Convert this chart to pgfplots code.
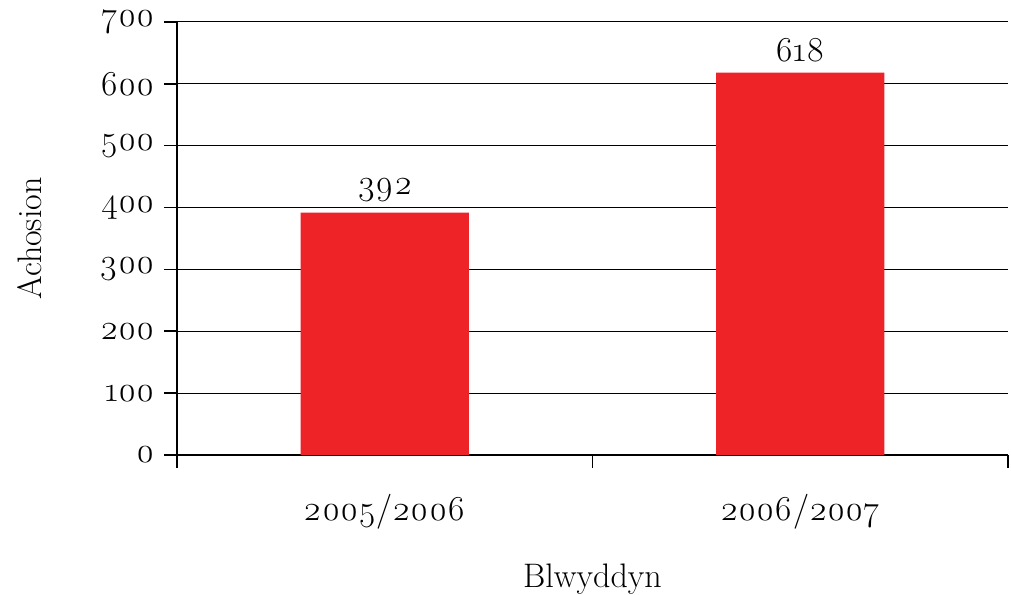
\documentclass[border=0pt]{standalone}
\usepackage{fontspec}
\setmainfont{Latin Modern Roman}[Numbers=OldStyle]
\usepackage{pgfplots}
\pgfplotsset{compat=1.18}
\definecolor{barred}{RGB}{237,35,39}
\begin{document}
\begin{tikzpicture}
\begin{axis}[
  scale only axis,
  width=415.5pt, height=216.5pt,
  xmin=-0.5, xmax=1.5,
  ymin=0, ymax=700,
  ytick={0,100,...,700},
  axis x line=bottom, axis y line=left,
  axis line style={-, line width=1pt},
  xtick={-0.5,0.5,1.5},
  xticklabels={},
  extra x ticks={0,1},
  extra x tick labels={2005/2006,2006/2007},
  extra x tick style={major tick length=0pt, tick style={draw=none}, grid=none},
  tick style={draw=black,line width=0.8pt},
  tick align=outside,
  major tick length=6.5pt,
  ymajorgrids,
  grid style={black, line width=0.5pt},
  /pgf/number format/assume math mode=true,
  ticklabel style={font=\fontsize{17.5}{20}\selectfont},
  yticklabel style={xshift=-1pt},
  xticklabel style={yshift=-16pt},
  xlabel={Blwyddyn},
  ylabel={Achosion},
  label style={font=\fontsize{17}{20}\selectfont},
  xlabel style={yshift=-4pt},
  ylabel style={yshift=22pt},
  enlarge x limits=false,
]
\addplot[ybar, bar width=0.405, fill=barred, draw=none,
  nodes near coords,
  every node near coord/.append style={font=\fontsize{17.5}{20}\selectfont, black, yshift=2pt},
] coordinates {(0,392) (1,618)};
\end{axis}
\pgfresetboundingbox
\path[use as bounding box] ([shift={(-88.5pt,-70pt)}]current axis.south west) rectangle ([shift={(1.5pt,11pt)}]current axis.north east);
\end{tikzpicture}
\end{document}
